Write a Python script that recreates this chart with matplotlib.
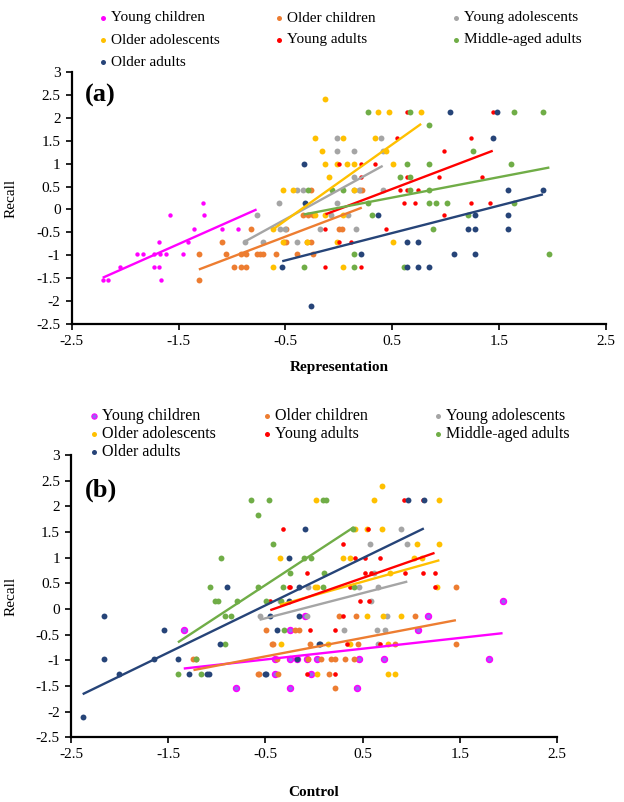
import numpy as np
import matplotlib.pyplot as plt

plt.rcParams['font.family'] = ['Liberation Serif', 'DejaVu Serif']
plt.rcParams['axes.unicode_minus'] = False

groups = ['Young children', 'Older children', 'Young adolescents',
          'Older adolescents', 'Young adults', 'Middle-aged adults', 'Older adults']
colors = ['#FF00FF', '#ED7D31', '#A5A5A5', '#FFC000', '#FF0000', '#70AD47', '#264478']

# ---- panel (a): Representation vs Recall ----
rep_yc = [(-2.21, -1.54), (-2.16, -1.54), (-2.05, -1.26), (-1.89, -0.98), (-1.83, -0.98),
          (-1.73, -0.98), (-1.67, -0.98), (-1.62, -0.98), (-1.73, -1.26), (-1.68, -1.26),
          (-1.68, -0.70), (-1.66, -1.54), (-1.58, -0.13), (-1.46, -0.98), (-1.41, -0.70),
          (-1.36, -0.42), (-1.27, 0.15), (-1.26, -0.13), (-1.09, -0.42), (-0.94, -0.42),
          (-0.77, -0.13)]
rep_oc = [(-1.31, -0.98), (-1.31, -1.54), (-1.09, -0.70), (-1.06, -0.98), (-0.98, -1.26),
          (-0.92, -1.26), (-0.87, -1.26), (-0.87, -0.98), (-0.82, -0.42), (-0.77, -0.98),
          (-0.74, -0.98), (-0.71, -0.98), (-0.59, -0.98), (-0.49, -0.70), (-0.49, -0.42),
          (-0.39, -0.98), (-0.30, -0.70), (-0.26, -0.70), (-0.24, -0.98), (-0.26, 0.43),
          (0.215, 0.43), (-0.34, -0.13), (-0.29, -0.13), (-0.24, -0.13), (0.03, -0.42),
          (-0.51, -0.70), (0.20, 0.43), (-0.92, -0.98), (-0.0, -0.42)]
rep_yadol = [(-0.88, -0.70), (-0.77, -0.13), (-0.71, -0.70), (-0.56, 0.15), (-0.55, -0.42),
             (-0.50, -0.42), (-0.39, -0.70), (-0.39, 0.43), (-0.34, 0.43), (-0.18, -0.42),
             (-0.02, 0.15), (-0.07, -0.13), (0.09, -0.13), (0.16, -0.42), (0.19, 0.43),
             (0.14, 0.71), (0.14, 1.27), (-0.02, 1.27), (-0.02, 1.55), (0.39, 1.55),
             (0.41, 1.27), (0.41, 0.43), (0.14, 0.43)]
rep_oadol = [(-0.125, 2.40), (0.37, 2.12), (0.47, 2.12), (0.77, 2.12), (-0.22, 1.55),
             (0.04, 1.55), (0.34, 1.55), (-0.16, 1.27), (0.44, 1.27), (-0.125, 0.99),
             (-0.02, 0.99), (0.08, 0.99), (0.14, 0.99), (0.51, 0.99), (-0.09, 0.71),
             (-0.52, 0.43), (-0.43, 0.43), (0.14, 0.43), (-0.22, -0.13), (-0.125, -0.13),
             (0.04, -0.13), (-0.62, -0.42), (-0.52, -0.70), (-0.30, -0.70), (-0.02, -0.70),
             (0.51, -0.70), (-0.62, -1.26), (0.04, -1.26)]
rep_ya = [(0.64, 2.12), (1.44, 2.12), (0.54, 1.55), (1.24, 1.55), (0.98, 1.27),
          (0.0, 0.99), (0.21, 0.99), (0.34, 0.99), (0.21, 0.71), (0.64, 0.71),
          (0.94, 0.71), (1.34, 0.71), (0.57, 0.43), (0.64, 0.43), (0.74, 0.43),
          (0.61, 0.15), (0.71, 0.15), (1.24, 0.15), (1.41, 0.15), (0.98, -0.13),
          (-0.125, -0.42), (0.44, -0.42), (0.0, -0.70), (0.11, -0.70), (-0.125, -1.26),
          (0.21, -1.26)]
rep_ma = [(0.27, 2.12), (0.67, 2.12), (1.64, 2.12), (1.91, 2.12), (0.84, 1.84),
          (1.26, 1.27), (0.64, 0.99), (0.84, 0.99), (1.61, 0.99), (0.57, 0.71),
          (0.67, 0.71), (-0.29, 0.43), (-0.06, 0.43), (0.04, 0.43), (0.67, 0.43),
          (0.84, 0.43), (0.27, 0.15), (0.84, 0.15), (0.91, 0.15), (1.01, 0.15),
          (1.64, 0.15), (0.31, -0.13), (1.21, -0.13), (0.88, -0.42), (0.14, -0.98),
          (1.97, -0.98), (-0.33, -1.26), (0.14, -1.26), (0.61, -1.26)]
rep_oa = [(-0.325, 0.99), (-0.53, -1.26), (-0.32, 0.15), (-0.26, -2.11), (1.04, 2.12),
          (1.48, 2.12), (1.44, 1.55), (1.58, 0.43), (1.91, 0.43), (0.37, -0.13),
          (1.27, -0.13), (1.58, -0.13), (1.21, -0.42), (1.27, -0.42), (1.58, -0.42),
          (0.64, -0.70), (0.74, -0.70), (0.21, -0.98), (1.08, -0.98), (1.27, -0.98),
          (0.64, -1.26), (0.74, -1.26), (0.84, -1.26)]

# linear trendlines (slope, intercept)
rep_slope = [1.035, 0.885, 1.28, 1.66, 0.886, 0.446, 0.598]
rep_icpt = [0.797, -0.151, 0.426, 0.589, 0.005, 0.037, -0.813]

# ---- panel (b): Control vs Recall ----
ctl_yc = [(-1.34, -0.41), (-0.80, -1.54), (-0.40, -1.26), (-0.40, -0.98), (-0.25, -0.41),
          (-0.25, -0.98), (-0.25, -1.54), (-0.18, -0.98), (-0.09, -0.13), (-0.07, -0.98),
          (0.03, -0.98), (-0.03, -1.26), (0.44, -1.54), (0.46, -0.98), (0.72, -0.98),
          (1.07, -0.41), (1.17, -0.13), (1.80, -0.98), (1.94, 0.15)]
ctl_oc = [(-1.24, -0.98), (-1.21, -0.98), (-0.58, -1.26), (-0.49, -0.41), (-0.43, -0.69),
          (-0.42, -0.69), (-0.37, -1.26), (-0.38, -0.98), (-0.20, -0.41), (-0.15, -0.41),
          (-0.04, -0.69), (-0.06, -0.98), (0.15, -1.26), (0.18, -0.98), (0.22, -0.98),
          (0.22, -1.54), (0.26, -0.13), (0.32, -0.98), (0.41, -0.98), (0.43, -0.13),
          (0.45, -0.69), (0.83, -0.69), (1.04, -0.13), (1.46, 0.43), (1.46, -0.69),
          (0.07, -0.98), (-0.57, -1.26)]
ctl_yadol = [(-0.56, -0.13), (-0.07, -0.13), (-0.06, 0.43), (0.31, -0.41), (0.46, 0.43),
             (0.59, 0.15), (0.58, 1.27), (0.62, 0.71), (0.65, -0.41), (0.66, 0.43),
             (0.66, -0.69), (0.73, -0.41), (0.75, -0.13), (0.89, 1.55), (0.96, 1.27),
             (-0.35, 0.15)]
ctl_oadol = [(0.70, 2.40), (0.02, 2.12), (0.62, 2.12), (1.29, 2.12), (0.42, 1.55),
             (0.55, 1.55), (0.70, 1.55), (1.06, 1.27), (1.29, 1.27), (-0.35, 0.99),
             (0.30, 0.99), (0.37, 0.99), (1.03, 0.99), (1.11, 0.99), (0.78, 0.71),
             (0.01, 0.43), (0.03, 0.43), (1.27, 0.43), (0.55, -0.13), (0.71, -0.13),
             (0.89, -0.13), (-0.34, -0.69), (0.14, -0.69), (0.37, -0.69), (0.76, -0.69),
             (0.03, -1.26), (0.76, -1.26), (0.83, -1.26)]
ctl_ya = [(0.93, 2.12), (1.12, 2.12), (-0.32, 1.55), (0.56, 1.55), (0.30, 1.27),
          (0.42, 0.99), (0.52, 0.99), (0.68, 0.99), (-0.07, 0.71), (0.52, 0.71),
          (0.59, 0.71), (0.94, 0.71), (1.12, 0.71), (1.24, 0.71), (-0.26, 0.43),
          (0.37, 0.43), (1.24, 0.43), (-0.45, 0.15), (0.47, 0.15), (0.57, 0.15),
          (0.30, -0.13), (-0.04, -0.41), (0.22, -0.41), (0.34, -0.69), (0.68, -0.69),
          (-0.07, -1.26), (0.22, -1.26), (-0.25, 0.43)]
ctl_ma = [(-0.65, 2.12), (-0.46, 2.12), (0.09, 2.12), (0.12, 2.12), (-0.58, 1.84),
          (0.40, 1.55), (-0.42, 1.27), (-0.96, 0.99), (-0.10, 0.99), (-0.03, 0.99),
          (-0.25, 0.71), (0.10, 0.71), (-1.07, 0.43), (-0.58, 0.43), (-0.32, 0.43),
          (0.09, 0.43), (0.41, 0.43), (-1.02, 0.15), (-0.99, 0.15), (-0.79, 0.15),
          (-0.49, 0.15), (-0.34, 0.15), (-0.92, -0.13), (-0.85, -0.13), (-0.92, -0.69),
          (-0.31, -0.41), (-1.40, -1.26), (-1.21, -0.98), (-1.16, -1.26)]
ctl_oa = [(-2.38, -2.11), (-2.16, -0.13), (-2.16, -0.98), (-2.01, -1.26), (-1.65, -0.98),
          (-1.54, -0.41), (-1.40, -0.98), (-1.29, -1.26), (-1.10, -1.26), (-1.08, -1.26),
          (-0.97, -0.69), (-0.89, 0.43), (-0.50, -1.26), (-0.49, -1.26), (-0.45, -0.13),
          (-0.38, -0.41), (-0.26, 0.99), (-0.26, 0.15), (-0.15, 0.43), (-0.15, -0.13),
          (-0.09, 1.55), (0.05, -0.69), (0.06, -0.69), (0.97, 2.12), (1.13, 2.12),
          (-0.18, -0.98)]

ctl_slope = [0.21, 0.36, 0.49, 0.53, 0.66, 1.24, 0.92]
ctl_icpt = [-0.879, -0.744, 0.064, 0.266, 0.274, 1.086, 0.53]

rep_sets = [rep_yc, rep_oc, rep_yadol, rep_oadol, rep_ya, rep_ma, rep_oa]
ctl_sets = [ctl_yc, ctl_oc, ctl_yadol, ctl_oadol, ctl_ya, ctl_ma, ctl_oa]

fig = plt.figure(figsize=(6.24, 8.02), dpi=100)
W, H = 624, 802


def axes_px(left, top, right, bottom):
    return fig.add_axes([left / W, 1 - bottom / H, (right - left) / W, (bottom - top) / H])


def draw_panel(ax, sets, slopes, icpts, sizes, yc_face):
    for i, pts in enumerate(sets):
        a = np.array(pts)
        if i == 0 and yc_face is not None:
            ax.scatter(a[:, 0], a[:, 1], s=sizes[i], facecolor=yc_face,
                       edgecolor=colors[0], linewidth=1.1, zorder=2, clip_on=False)
        else:
            ax.scatter(a[:, 0], a[:, 1], s=sizes[i], color=colors[i], linewidth=0,
                       zorder=2, clip_on=False)
    for i, pts in enumerate(sets):
        a = np.array(pts)
        xs = np.array([a[:, 0].min(), a[:, 0].max()])
        ax.plot(xs, slopes[i] * xs + icpts[i], color=colors[i], lw=1.7,
                solid_capstyle='butt', zorder=3)
    ax.set_xlim(-2.5, 2.5)
    ax.set_ylim(-2.5, 3)
    ax.set_xticks([-2.5, -1.5, -0.5, 0.5, 1.5, 2.5])
    ax.set_yticks(np.arange(-2.5, 3.01, 0.5))
    ax.set_yticklabels(['-2.5', '-2', '-1.5', '-1', '-0.5', '0', '0.5', '1', '1.5', '2', '2.5', '3'])
    ax.set_xticklabels(['-2.5', '-1.5', '-0.5', '0.5', '1.5', '2.5'])
    for s in ['top', 'right']:
        ax.spines[s].set_visible(False)
    for s in ['left', 'bottom']:
        ax.spines[s].set_linewidth(1.6)
    ax.tick_params(direction='out', length=4, width=1.2, labelsize=11, pad=4)


def draw_legend(colx, rowy, fs, yc_face):
    order_pos = [(0, 0), (1, 0), (2, 0), (0, 1), (1, 1), (2, 1), (0, 2)]
    for i, name in enumerate(groups):
        c, r = order_pos[i]
        mx, my = colx[c], rowy[r]
        if i == 0 and yc_face is not None:
            fig.add_artist(plt.Line2D([mx / W], [1 - my / H], marker='o', ms=3.8,
                                      mfc=yc_face, mec=colors[0], mew=0.8,
                                      transform=fig.transFigure))
        else:
            fig.add_artist(plt.Line2D([mx / W], [1 - my / H], marker='o', ms=3.6,
                                      mfc=colors[i], mec=colors[i], mew=0,
                                      transform=fig.transFigure))
        fig.text((mx + 8) / W, 1 - my / H, name, fontsize=fs, ha='left', va='center')


# panel (a)
ax1 = axes_px(71.7, 72, 606, 324)
draw_panel(ax1, rep_sets, rep_slope, rep_icpt, [10, 18, 18, 18, 10, 18, 18], None)
ax1.set_xlabel('Representation', fontsize=11, fontweight='bold')
ax1.xaxis.set_label_coords(0.5, -0.147)
ax1.set_ylabel('Recall', fontsize=11)
ax1.yaxis.set_label_coords(-0.102, 0.5)
ax1.text(0.025, 0.905, '(a)', transform=ax1.transAxes, fontsize=19,
         fontweight='bold', va='center', ha='left')
draw_legend([103, 279, 456], [18, 40, 62], 11, None)

# panel (b)
ax2 = axes_px(71, 455, 557, 737.3)
draw_panel(ax2, ctl_sets, ctl_slope, ctl_icpt, [18, 18, 18, 18, 11, 18, 18], '#9466F0')
ax2.set_xlabel('Control', fontsize=11, fontweight='bold')
ax2.xaxis.set_label_coords(0.5, -0.172)
ax2.set_ylabel('Recall', fontsize=11)
ax2.yaxis.set_label_coords(-0.111, 0.5)
ax2.text(0.029, 0.876, '(b)', transform=ax2.transAxes, fontsize=19,
         fontweight='bold', va='center', ha='left')
draw_legend([94, 267, 438], [416, 434, 452], 11.5, '#9466F0')

fig.savefig('out.png', dpi=100)
